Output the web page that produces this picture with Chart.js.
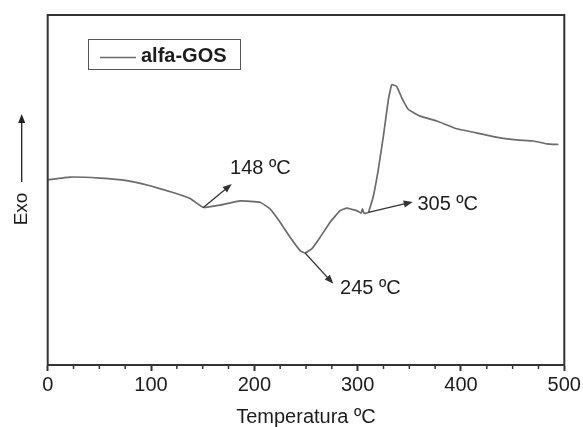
<!DOCTYPE html>
<html>
<head>
  <title>alfa-GOS DSC</title>
  <script src="https://cdn.jsdelivr.net/npm/chart.js"></script>
  <style>
    body { margin: 0; background: #fff; }
  </style>
</head>
<body>
  <canvas id="myChart" width="583" height="427"></canvas>

  <script>
    // temperatura (ºC) and heat-flow signal (arbitrary units, exo up)
    const temps = [0.5, 21.6, 50.6, 76.5, 99.0, 121.3, 137.8, 150.6, 166.8, 186.2,
      205.5, 215.2, 224.9, 234.6, 244.3, 249.1, 255.6, 263.7, 273.3, 283.0,
      289.4, 299.1, 303.3, 304.7, 306.2, 310.4, 315.2, 320.0, 324.9, 329.7,
      333.0, 337.8, 342.7, 349.1, 360.4, 376.6, 395.9, 412.0, 437.8, 454.0,
      470.1, 483.1, 494.3];
    const signal = [52.9, 53.7, 53.4, 52.7, 51.2, 49.3, 47.6, 45.0, 45.7, 46.9,
      46.5, 44.6, 40.8, 36.5, 32.7, 32.0, 33.2, 36.5, 40.8, 44.1,
      44.8, 44.1, 43.4, 44.6, 43.3, 43.6, 48.3, 55.9, 65.4, 75.8,
      80.1, 79.6, 76.3, 73.0, 71.1, 69.7, 67.5, 66.5, 64.9, 64.3,
      64.0, 63.2, 63.0];
    const seriesName = 'alfa-GOS';
    const xTicks = [0, 100, 200, 300, 400, 500];
    const xMinorTicks = [25, 50, 75, 125, 150, 175, 225, 250, 275, 325, 350, 375, 425, 450, 475];

    // peak labels: arrow from (x0,y0) to (x1,y1), text at (tx,ty), in data units
    const notes = [
      { text: '148 ºC', x0: 150.6, y0: 45.0, x1: 178.1, y1: 51.7, tx: 176.5, ty: 56.1 },
      { text: '245 ºC', x0: 249.1, y0: 32.0, x1: 276.5, y1: 23.2, tx: 283.0, ty: 22.0 },
      { text: '305 ºC', x0: 310.4, y0: 43.6, x1: 353.3, y1: 46.6, tx: 357.8, ty: 46.0 }
    ];

    const FONT = "'Liberation Sans', Arial, sans-serif";
    const INK = '#1c1c1c';

    function arrow(ctx, x0, y0, x1, y1, color) {
      const a = Math.atan2(y1 - y0, x1 - x0);
      const len = 9, w = 3.5;
      ctx.strokeStyle = color;
      ctx.fillStyle = color;
      ctx.lineWidth = 1.3;
      ctx.beginPath();
      ctx.moveTo(x0, y0);
      ctx.lineTo(x1 - Math.cos(a) * len * 0.6, y1 - Math.sin(a) * len * 0.6);
      ctx.stroke();
      ctx.beginPath();
      ctx.moveTo(x1, y1);
      ctx.lineTo(x1 - Math.cos(a) * len - Math.sin(a) * w, y1 - Math.sin(a) * len + Math.cos(a) * w);
      ctx.lineTo(x1 - Math.cos(a) * len + Math.sin(a) * w, y1 - Math.sin(a) * len - Math.cos(a) * w);
      ctx.closePath();
      ctx.fill();
    }

    const extras = {
      id: 'extras',
      afterDraw(chart) {
        const ctx = chart.ctx;
        const area = chart.chartArea;
        const xs = chart.scales.x, ys = chart.scales.y;
        ctx.save();

        // frame
        ctx.strokeStyle = '#333';
        ctx.lineWidth = 2;
        ctx.strokeRect(area.left, area.top, area.right - area.left, area.bottom - area.top);

        // minor ticks
        ctx.lineWidth = 1.5;
        xMinorTicks.forEach(v => {
          const px = xs.getPixelForValue(v);
          ctx.beginPath();
          ctx.moveTo(px, area.bottom);
          ctx.lineTo(px, area.bottom + 4);
          ctx.stroke();
        });

        // legend box
        ctx.lineWidth = 1;
        ctx.strokeStyle = '#555';
        ctx.strokeRect(88.5, 39.5, 152, 30);
        ctx.strokeStyle = chart.data.datasets[0].borderColor;
        ctx.lineWidth = 1.3;
        ctx.beginPath();
        ctx.moveTo(100, 57.5);
        ctx.lineTo(136, 57.5);
        ctx.stroke();
        ctx.fillStyle = INK;
        ctx.font = 'bold 20px ' + FONT;
        ctx.textBaseline = 'middle';
        ctx.textAlign = 'left';
        ctx.fillText(chart.data.datasets[0].label, 141, 56);

        // annotations
        ctx.font = '20px ' + FONT;
        notes.forEach(n => {
          arrow(ctx, xs.getPixelForValue(n.x0), ys.getPixelForValue(n.y0),
            xs.getPixelForValue(n.x1), ys.getPixelForValue(n.y1), '#333');
          ctx.fillStyle = INK;
          ctx.fillText(n.text, xs.getPixelForValue(n.tx), ys.getPixelForValue(n.ty));
        });

        // Exo label with arrow
        arrow(ctx, 21.7, 182, 21.7, 114, '#222');
        ctx.translate(21.7, 209);
        ctx.rotate(-Math.PI / 2);
        ctx.textAlign = 'center';
        ctx.fillStyle = INK;
        ctx.font = '19px ' + FONT;
        ctx.fillText('Exo', 0, 0);

        ctx.restore();
      }
    };

    const ctx = document.getElementById('myChart').getContext('2d');
    new Chart(ctx, {
      type: 'line',
      data: {
        datasets: [{
          label: seriesName,
          data: temps.map((t, i) => ({ x: t, y: signal[i] })),
          borderColor: '#6b6b6b',
          borderWidth: 1.7,
          pointRadius: 0,
          tension: 0.1,
          fill: false
        }]
      },
      options: {
        responsive: false,
        animation: false,
        layout: { padding: { left: 47.7, right: 18.7, top: 15, bottom: 0 } },
        plugins: { legend: { display: false }, tooltip: { enabled: false } },
        scales: {
          x: {
            type: 'linear',
            min: 0,
            max: 500,
            afterBuildTicks: axis => { axis.ticks = xTicks.map(v => ({ value: v })); },
            ticks: {
              font: { family: FONT, size: 20 },
              color: INK,
              padding: 2,
              autoSkip: false,
              maxRotation: 0
            },
            grid: { drawOnChartArea: false, drawTicks: true, tickLength: 6, tickWidth: 2, tickColor: '#333' },
            border: { display: true, color: '#333', width: 2 },
            title: {
              display: true,
              text: 'Temperatura ºC',
              color: INK,
              font: { family: FONT, size: 20, lineHeight: 1 },
              padding: { top: 8, bottom: 0 }
            }
          },
          y: { display: false, min: 0, max: 100 }
        }
      },
      plugins: [extras]
    });
  </script>
</body>
</html>
